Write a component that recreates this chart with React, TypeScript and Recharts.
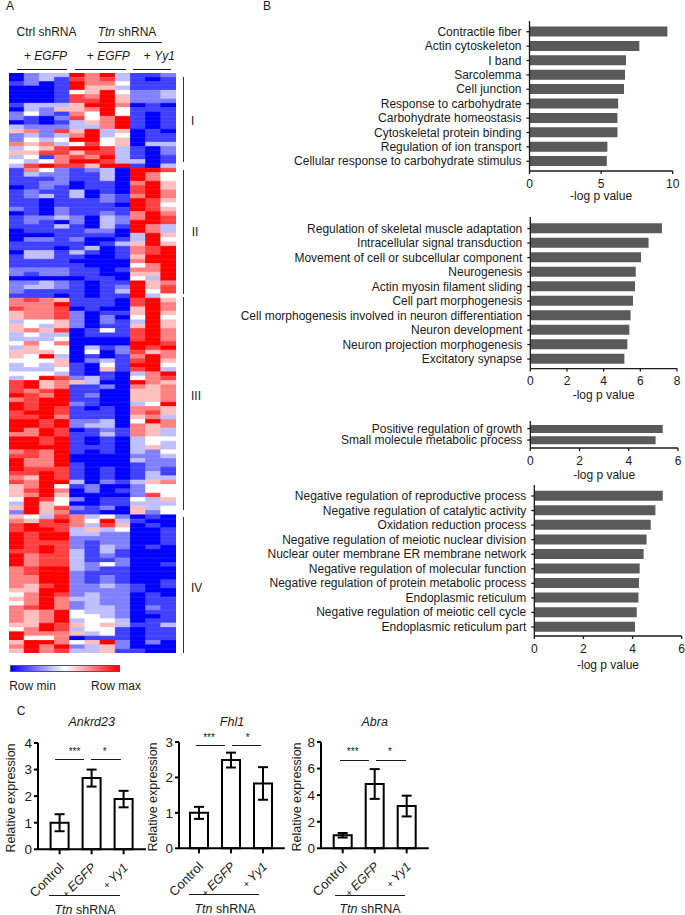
import React from "react";
import { Bar, BarChart, Cell, ErrorBar, Label, XAxis, YAxis } from "recharts";

const FONT = "Arial, 'Liberation Sans', sans-serif";

// heat map, one row per gene, -4 (row min) .. 4 (row max)
const clusterOne: number[][] = [
  [-4,-2,-1,-1,4,2,4,-1,-3,-3,-2],
  [-4,-2,-1,-3,3,2,3,-1,-3,-4,-3],
  [-3,-2,-4,-3,4,2,2,0,-3,-3,-3],
  [-4,-4,-4,-3,4,1,1,-1,-3,-3,-3],
  [-4,-4,-4,-3,0,1,4,0,-2,-2,-1],
  [-4,-4,-4,-3,3,2,4,1,-2,-2,-1],
  [-4,-4,-4,-3,3,3,4,1,-2,-2,-2],
  [-3,-1,-1,-1,1,4,4,2,-4,-3,-4],
  [-4,-1,-2,1,1,2,4,0,-3,-3,-3],
  [-2,0,-2,-3,2,0,4,0,-3,-4,-3],
  [-2,-3,-4,-2,3,0,2,4,-3,-4,-3],
  [-4,-3,-4,-3,-1,1,2,4,-3,-4,-3],
  [-1,-2,-2,-2,-1,-1,2,4,-3,-4,-3],
  [1,2,-2,3,1,4,-1,1,-4,-3,-4],
  [-2,-1,-2,-1,2,4,-1,0,-4,-3,-3],
  [-2,0,-1,0,4,4,0,1,-4,-3,-3],
  [2,1,2,-1,0,3,0,1,-4,-1,-1],
  [-1,0,1,3,4,4,3,-1,-3,-4,-2],
  [1,1,3,3,1,3,3,-1,-3,-4,-2],
  [-1,0,-3,2,3,2,4,-1,-3,-4,-3],
  [0,-1,0,2,4,4,3,-1,-1,-4,-3],
  [-1,3,4,3,3,1,4,4,-3,-4,-1],
];
const clusterTwo: number[][] = [
  [-3,2,0,-2,-3,-2,-1,-4,4,4,3],
  [-3,-1,-2,-2,-3,-3,-1,-4,4,2,0],
  [-3,-3,-3,-2,-3,-3,-1,-4,4,2,0],
  [-3,-3,-2,-2,-4,-3,-3,-4,2,4,1],
  [-4,-3,-2,-3,-4,-3,-3,-4,3,4,1],
  [-3,-2,-3,-3,-1,-4,-3,-4,3,4,2],
  [-3,-2,-1,-3,-1,-4,-2,-3,2,4,2],
  [-3,-3,-4,-3,-3,-3,-2,-3,4,3,1],
  [-3,-3,-4,-3,-3,-3,-3,-4,4,3,0],
  [-2,-3,-4,-2,-3,-3,-3,-3,4,3,1],
  [-4,-3,-4,-2,-3,-3,-2,-3,2,4,2],
  [-3,-2,-2,-1,-2,-4,-1,-2,2,4,3],
  [-3,-2,-3,-4,-2,-4,-1,-2,4,4,3],
  [-3,-3,-3,-1,-3,-4,-1,-3,4,2,-1],
  [-4,-3,-3,-3,-3,-2,-2,-4,4,2,-1],
  [-4,-4,-4,-3,-3,-3,-3,-4,-1,4,1],
  [-4,-2,-2,-3,-2,-4,-4,-3,-1,4,0],
  [-3,-3,-3,-3,-3,-4,-3,-1,1,4,1],
  [-3,-3,-3,-4,-3,-1,-4,-3,2,3,4],
  [-4,-1,-1,-3,-1,-3,-4,-3,2,3,4],
  [-3,-1,-1,-3,-3,-4,-4,-3,1,4,4],
  [-3,-3,-3,-3,-4,-4,-4,-4,2,4,4],
  [-3,-3,-3,-3,-3,-4,-4,-4,0,2,4],
  [-2,-2,-2,-2,-3,-3,-4,-3,2,2,4],
  [-2,-3,-2,-2,-3,-3,-4,-4,1,1,4],
  [-4,-4,-4,-4,-4,-3,-3,-4,0,-1,4],
  [-2,-2,-1,-2,-3,-4,-3,-3,4,1,2],
  [-2,-1,-1,-2,-3,-4,-3,-2,4,1,3],
  [-2,-3,-3,-3,-3,-4,-3,-1,4,0,3],
  [-3,-3,-3,-4,-3,-4,-3,-3,4,-1,0],
];
const clusterThree: number[][] = [
  [2,3,2,1,-3,-3,-3,-4,3,4,1],
  [2,2,2,4,-3,-3,-3,-4,3,4,2],
  [3,2,2,3,-4,-3,-4,-4,1,4,2],
  [1,2,2,3,-2,-4,-3,-3,1,4,1],
  [1,2,2,3,-2,-4,-2,-4,0,4,0],
  [-1,0,0,1,-2,-4,-2,-3,-1,4,1],
  [1,0,-1,1,-2,-4,-3,-3,1,4,1],
  [1,2,1,3,-4,-3,0,-3,3,4,2],
  [-1,0,-1,-1,-4,-3,-3,-3,3,4,2],
  [-1,-1,-1,0,-4,-4,-4,-4,3,4,2],
  [0,2,0,2,-4,-4,-4,-4,4,4,3],
  [-1,1,0,0,-4,-1,-3,-2,4,3,4],
  [1,1,1,0,-4,0,-4,-2,3,1,2],
  [1,0,4,-1,-4,-3,-4,-3,2,4,2],
  [0,0,0,1,-4,-2,-1,-3,3,4,1],
  [-1,0,-1,1,-3,-4,0,-3,4,4,0],
  [-1,-1,-1,0,-3,-4,1,-3,3,4,-1],
  [0,0,0,-1,-3,-4,-3,-4,-1,2,4],
  [-1,0,4,3,-2,-1,-3,-4,0,2,3],
  [3,4,1,2,1,-1,-4,-4,4,2,1],
  [3,4,1,2,-3,-3,-2,-4,2,1,2],
  [3,2,3,4,-3,-3,-4,-4,1,1,2],
  [4,3,2,4,-3,-2,-4,-4,1,1,2],
  [2,3,4,4,-3,-3,-4,-4,1,1,2],
  [4,3,4,4,-2,-3,-4,-4,-1,0,4],
  [4,3,4,3,-3,-4,-3,-4,2,2,1],
  [3,4,4,3,-3,-3,-3,-4,2,3,1],
  [3,3,4,2,-3,-3,-3,-4,1,2,-1],
  [4,4,3,4,-2,-2,-1,-4,0,4,2],
  [4,4,3,4,-2,-1,-1,-4,2,1,2],
  [4,2,4,3,-4,-3,-2,-3,2,1,-1],
  [2,2,4,3,-3,-3,-1,-3,2,1,-1],
  [4,4,3,4,-3,-4,-3,-4,-1,0,0],
  [4,4,3,4,-3,-4,-3,-4,-1,0,-1],
  [4,4,4,4,-3,-3,-3,-4,-1,1,-1],
  [2,3,2,4,-3,-4,-3,-4,-1,-2,0],
  [3,3,2,4,-4,-4,-4,-4,-2,-2,-1],
  [4,2,2,4,-4,-4,-4,-4,-1,-2,-2],
  [4,2,2,4,-3,-4,-4,-4,-3,-2,-2],
  [4,3,3,3,-3,-4,-3,-4,-3,-2,-3],
  [3,3,4,3,-3,-4,-3,-4,-3,-1,-3],
  [2,1,4,3,-3,-4,-3,-4,-3,-1,-1],
  [3,2,4,4,-1,-4,-2,-3,-1,1,2],
  [1,2,4,0,-3,-2,-4,-4,-2,0,0],
  [1,3,4,2,-4,-2,-4,-3,-2,0,0],
  [1,2,4,1,-4,-4,-4,-4,-2,3,0],
  [0,4,3,0,-2,-4,-3,-3,0,-1,1],
  [-1,4,1,0,-4,-4,-3,-3,-1,-1,-1],
  [1,4,1,3,-2,-3,-2,-4,1,-1,0],
  [-2,4,1,2,-3,-3,-4,-4,1,-2,0],
];
const clusterFour: number[][] = [
  [1,0,-1,3,2,-1,0,-2,-4,-3,-4],
  [2,1,3,4,2,0,4,-1,-3,-4,-4],
  [3,4,3,3,2,-1,3,1,-4,-3,-4],
  [3,4,4,3,-1,1,-1,0,-4,-4,-3],
  [4,3,4,4,-1,-1,-2,-2,-4,-4,-3],
  [4,3,4,4,-2,-2,-2,-2,-4,-4,-3],
  [4,3,3,3,-2,-3,-2,-2,-4,-4,-3],
  [4,3,4,3,-2,-3,-1,-2,-4,-3,-4],
  [3,3,4,3,-1,-3,-1,-3,-4,-4,-4],
  [4,2,3,3,-1,-3,-2,-3,-4,-4,-4],
  [4,2,3,3,-1,-3,-3,-2,-4,-4,-4],
  [4,2,3,3,-1,-2,0,-2,-4,-4,-3],
  [2,3,4,4,-1,-2,-3,-3,-4,-4,-4],
  [2,3,4,4,-2,-3,-3,-3,-4,-4,-4],
  [2,2,4,4,-2,-3,-2,-3,-4,-4,-4],
  [2,2,4,4,-2,-3,-2,-3,-4,-4,-3],
  [2,1,3,4,-2,-2,-1,-2,-3,-4,-3],
  [1,1,4,4,-2,-2,-2,-2,-3,-4,-4],
  [0,2,4,3,-2,-1,-2,-2,-4,-3,-4],
  [1,2,4,2,-1,-1,-2,-2,-4,-3,-3],
  [0,2,4,2,-2,-1,-2,-2,-4,-3,-3],
  [2,3,4,2,-2,-1,-1,-2,-4,-2,-3],
  [2,1,2,4,0,-1,-1,-2,-4,-3,-3],
  [2,1,2,4,0,0,-1,-2,-4,-4,-3],
  [2,1,2,4,-1,0,0,-1,-4,-3,-3],
  [1,1,4,3,1,0,1,-1,-3,-3,-1],
  [0,2,4,3,-1,0,0,-3,-4,-3,-3],
  [4,2,2,2,1,-1,0,-3,-4,-3,-3],
  [4,0,0,2,-4,-3,-3,-3,-4,-3,-3],
  [1,4,4,2,0,1,4,-2,-4,-2,-4],
  [2,4,2,4,-2,-1,1,-2,-4,-4,-4],
  [1,4,2,3,-1,-1,1,-3,-3,-4,-4],
];
const heatRows = [...clusterOne, ...clusterTwo, ...clusterThree, ...clusterFour];
const heatColumns = ["c0", "c1", "c2", "c3", "c4", "c5", "c6", "c7", "c8", "c9", "c10"];

// GO terms
const fiberTerms = ["Contractile fiber", "Actin cytoskeleton", "I band", "Sarcolemma", "Cell junction", "Response to carbohydrate", "Carbohydrate homeostasis", "Cytoskeletal protein binding", "Regulation of ion transport", "Cellular response to carbohydrate stimulus"];
const fiberValues = [9.63, 7.67, 6.74, 6.67, 6.6, 6.19, 6.14, 6.14, 5.44, 5.4];
const neuronTerms = ["Regulation of skeletal muscle adaptation", "Intracellular signal transduction", "Movement of cell or subcellular component", "Neurogenesis", "Actin myosin filament sliding", "Cell part morphogenesis", "Cell morphogenesis involved in neuron differentiation", "Neuron development", "Neuron projection morphogenesis", "Excitatory synapse"];
const neuronValues = [7.18, 6.45, 6.04, 5.75, 5.71, 5.6, 5.47, 5.4, 5.29, 5.13];
const growthTerms = ["Positive regulation of growth", "Small molecule metabolic process"];
const growthValues = [5.38, 5.09];
const negativeTerms = ["Negative regulation of reproductive process", "Negative regulation of catalytic activity", "Oxidation reduction process", "Negative regulation of meiotic nuclear division", "Nuclear outer membrane ER membrane network", "Negative regulation of molecular function", "Negative regulation of protein metabolic process", "Endoplasmic reticulum", "Negative regulation of meiotic cell cycle", "Endoplasmic reticulum part"];
const negativeValues = [5.23, 4.93, 4.74, 4.57, 4.45, 4.29, 4.26, 4.24, 4.17, 4.1];

// qPCR
const conditions = ["Control", "+ EGFP", "+ Yy1"];
const ankrdMeans = [1.0, 2.68, 1.89];
const ankrdErrors = [0.32, 0.32, 0.31];
const fhlMeans = [1.0, 2.49, 1.83];
const fhlErrors = [0.17, 0.21, 0.46];
const abraMeans = [0.98, 4.84, 3.18];
const abraErrors = [0.17, 1.12, 0.78];

const heatColor = (v: number) => {
  const t = Math.round(255 * (1 - Math.abs(v) / 4));
  return v < 0 ? `rgb(${t},${t},255)` : `rgb(255,${t},${t})`;
};

const Note = ({ x, y, size = 12, rotate = 0, children }: any) => (
  <div
    style={{
      position: "absolute", left: x, top: y, fontSize: size, color: "#1a1a1a", whiteSpace: "nowrap", lineHeight: 1,
      transform: `translate(-50%,-50%) rotate(${rotate}deg)`,
    }}
  >
    {children}
  </div>
);

const Rule = ({ x1, x2, y, weight = 1.4 }: any) => (
  <div style={{ position: "absolute", left: x1, top: y - weight / 2, width: x2 - x1, height: weight, background: "#1a1a1a" }} />
);

const Bracket = ({ x, y1, y2 }: any) => (
  <div style={{ position: "absolute", left: x - 0.75, top: y1, width: 1.5, height: y2 - y1, background: "#333" }} />
);

function Heatmap() {
  const data = heatRows.map((row, i) => {
    const entry: any = { gene: i };
    heatColumns.forEach((key) => { entry[key] = 1; });
    return entry;
  });
  return (
    <div style={{ position: "absolute", left: 9, top: 72.7 }}>
      <BarChart width={167} height={580.5} data={data} layout="vertical" barCategoryGap={0} margin={{ top: 0, right: 0, bottom: 0, left: 0 }}>
        <XAxis type="number" hide domain={[0, 11]} />
        <YAxis type="category" dataKey="gene" hide />
        {heatColumns.map((key, c) => (
          <Bar key={key} dataKey={key} stackId="heat" isAnimationActive={false}>
            {heatRows.map((row, r) => (
              <Cell key={r} fill={heatColor(row[c])} stroke={heatColor(row[c])} strokeWidth={0.8} />
            ))}
          </Bar>
        ))}
      </BarChart>
    </div>
  );
}

// recharts wraps long category ticks, these have to stay on one line
const TermTick = ({ x, y, payload }: any) => (
  <text x={x} y={y} dy={4} textAnchor="end" fontSize={12} fill="#1a1a1a">{payload.value}</text>
);

function TermChart({ terms, values, ticks, max, axisX, endX, top, bottom, bandTop, bandBottom, labelY, barSize = 10 }: any) {
  const left = 225;
  const chartTop = top - 2;
  const axisHeight = labelY + 12 - bottom;
  const data = terms.map((name: string, i: number) => ({ name, value: values[i] }));
  return (
    <div style={{ position: "absolute", left, top: chartTop }}>
      <BarChart
        width={685 - left}
        height={bottom - chartTop + axisHeight}
        data={data}
        layout="vertical"
        style={{ overflow: "visible" }}
        margin={{ top: 2, right: 685 - endX, bottom: 0, left: 0 }}
      >
        <XAxis
          type="number"
          domain={[0, max]}
          ticks={ticks}
          interval={0}
          height={axisHeight}
          tickSize={3}
          tickMargin={5}
          stroke="#1a1a1a"
          strokeWidth={1.3}
          tick={{ fontSize: 12, fill: "#1a1a1a" }}
        >
          <Label value="-log p value" position="insideBottom" offset={8} style={{ fontSize: 12, fill: "#1a1a1a" }} />
        </XAxis>
        <YAxis
          type="category"
          dataKey="name"
          width={axisX - left}
          interval={0}
          tickSize={3}
          tickMargin={5}
          stroke="#1a1a1a"
          strokeWidth={1.3}
          padding={{ top: bandTop - top, bottom: bottom - bandBottom }}
          tick={<TermTick />}
        />
        <Bar dataKey="value" fill="#5a5a5a" barSize={barSize} isAnimationActive={false} />
      </BarChart>
    </div>
  );
}

const ConditionTick = ({ x, y, payload }: any) => {
  const [plus, name] = String(payload.value).split(" ");
  return (
    <g transform={`translate(${x + 5},${y + 12}) rotate(-45)`}>
      <text textAnchor="end" fontSize={13} fill="#1a1a1a">
        {name ? (
          <>
            <tspan fontSize={10}>{plus} </tspan>
            <tspan fontSize={12.5} fontStyle="italic">{name}</tspan>
          </>
        ) : plus}
      </text>
    </g>
  );
};

function ExpressionChart({ means, errors, ticks, max, axisX, endX, top, bottom, padLeft, padRight }: any) {
  const left = axisX - 30;
  const chartTop = top - 8;
  const data = conditions.map((name, i) => ({ name, mean: means[i], err: errors[i] }));
  return (
    <div style={{ position: "absolute", left, top: chartTop }}>
      <BarChart
        width={endX - left + 4}
        height={bottom - chartTop + 56}
        data={data}
        style={{ overflow: "visible" }}
        margin={{ top: 8, right: 4, bottom: 0, left: 0 }}
      >
        <XAxis
          dataKey="name"
          height={56}
          interval={0}
          tickSize={5}
          stroke="#000"
          strokeWidth={2}
          padding={{ left: padLeft, right: padRight }}
          tick={<ConditionTick />}
        />
        <YAxis
          type="number"
          domain={[0, max]}
          ticks={ticks}
          interval={0}
          width={30}
          tickSize={4}
          tickMargin={2}
          stroke="#000"
          strokeWidth={2}
          tick={{ fontSize: 13.5, fill: "#1a1a1a" }}
        />
        <Bar dataKey="mean" fill="#fff" stroke="#000" strokeWidth={2} barSize={18} isAnimationActive={false}>
          <ErrorBar dataKey="err" width={5} stroke="#000" strokeWidth={2} />
        </Bar>
      </BarChart>
    </div>
  );
}

export default function App() {
  return (
    <div style={{ position: "absolute", left: 0, top: 0, width: 685, height: 915, background: "#fff", fontFamily: FONT, overflow: "hidden" }}>
      <Note x={10} y={6}>A</Note>
      <Note x={267} y={6}>B</Note>
      <Note x={21} y={711}>C</Note>

      <Note x={46.5} y={31.5}>Ctrl shRNA</Note>
      <Note x={127} y={31.5}><i>Ttn</i> shRNA</Note>
      <Rule x1={98.3} x2={161.7} y={42.3} />
      <Note x={45.5} y={55.7}>+ <i>EGFP</i></Note>
      <Note x={108.3} y={55.7}>+ <i>EGFP</i></Note>
      <Note x={159.3} y={55.7}>+ <i>Yy1</i></Note>
      <Rule x1={16.7} x2={67.3} y={69.3} />
      <Rule x1={74.7} x2={125.7} y={69.3} />
      <Rule x1={133.3} x2={171.3} y={69.3} />

      <Heatmap />

      <Bracket x={183.7} y1={77.3} y2={162.3} />
      <Bracket x={183.7} y1={170} y2={294.3} />
      <Bracket x={183.7} y1={296.7} y2={510} />
      <Bracket x={183.7} y1={516.7} y2={652.7} />
      <Note x={192.7} y={121}>I</Note>
      <Note x={195} y={231.7}>II</Note>
      <Note x={196} y={395.7}>III</Note>
      <Note x={196.7} y={588.3}>IV</Note>

      <div style={{ position: "absolute", left: 10.3, top: 665, width: 110, height: 7, boxSizing: "border-box", border: "1px solid #555", background: "linear-gradient(to right, #0000ff, #ffffff 50%, #ff0000)" }} />
      <Note x={32.5} y={685.5}>Row min</Note>
      <Note x={116} y={685.5}>Row max</Note>

      <TermChart terms={fiberTerms} values={fiberValues} ticks={[0, 5, 10]} max={10} axisX={529.5} endX={672.7} top={21} bottom={171} bandTop={24.5} bandBottom={168.5} labelY={196} />
      <TermChart terms={neuronTerms} values={neuronValues} ticks={[0, 2, 4, 6, 8]} max={8} axisX={530.3} endX={677} top={216.7} bottom={368.3} bandTop={221} bandBottom={366} labelY={395} />
      <TermChart terms={growthTerms} values={growthValues} ticks={[0, 2, 4, 6]} max={6} axisX={530.3} endX={678} top={420.7} bottom={447.7} bandTop={422.6} bandBottom={445.4} labelY={475} barSize={8} />
      <TermChart terms={negativeTerms} values={negativeValues} ticks={[0, 2, 4, 6]} max={6} axisX={534.3} endX={681.7} top={485} bottom={636} bandTop={488.7} bandBottom={634.3} labelY={665} />

      <Note x={91.7} y={721.7} size={12.5}><i>Ankrd23</i></Note>
      <Note x={232} y={721.7} size={12.5}><i>Fhl1</i></Note>
      <Note x={374.7} y={721.7} size={12.5}><i>Abra</i></Note>
      <Note x={10.7} y={798} size={12.5} rotate={-90}>Relative expression</Note>
      <Note x={153.3} y={796.7} size={12.5} rotate={-90}>Relative expression</Note>
      <Note x={296.7} y={796.7} size={12.5} rotate={-90}>Relative expression</Note>

      <ExpressionChart means={ankrdMeans} errors={ankrdErrors} ticks={[0, 1, 2, 3, 4]} max={4} axisX={37.7} endX={145.7} top={742.7} bottom={849} padLeft={5.6} padRight={6.4} />
      <ExpressionChart means={fhlMeans} errors={fhlErrors} ticks={[0, 1, 2, 3]} max={3} axisX={179.3} endX={285} top={742} bottom={848.3} padLeft={4} padRight={5.7} />
      <ExpressionChart means={abraMeans} errors={abraErrors} ticks={[0, 2, 4, 6, 8]} max={8} axisX={321} endX={428.7} top={742} bottom={848.3} padLeft={5.7} padRight={6} />

      <Rule x1={55} x2={84.3} y={759.3} />
      <Rule x1={91} x2={120.7} y={759.3} />
      <Note x={74.5} y={752} size={10}>***</Note>
      <Note x={104.7} y={752} size={10}>*</Note>
      <Rule x1={195.7} x2={225} y={745.7} />
      <Rule x1={231.7} x2={261} y={745.7} />
      <Note x={209} y={738} size={10}>***</Note>
      <Note x={247.7} y={738} size={10}>*</Note>
      <Rule x1={340.3} x2={369.3} y={760.7} />
      <Rule x1={376} x2={405.7} y={760.7} />
      <Note x={352.7} y={752} size={10}>***</Note>
      <Note x={390} y={752} size={10}>*</Note>

      <Rule x1={49.3} x2={120} y={895.3} />
      <Rule x1={189.3} x2={259.3} y={894.3} />
      <Rule x1={335} x2={405} y={895.3} />
      <Note x={85} y={910} size={12.5}><i>Ttn</i> shRNA</Note>
      <Note x={225} y={909} size={12.5}><i>Ttn</i> shRNA</Note>
      <Note x={370} y={909} size={12.5}><i>Ttn</i> shRNA</Note>
    </div>
  );
}
